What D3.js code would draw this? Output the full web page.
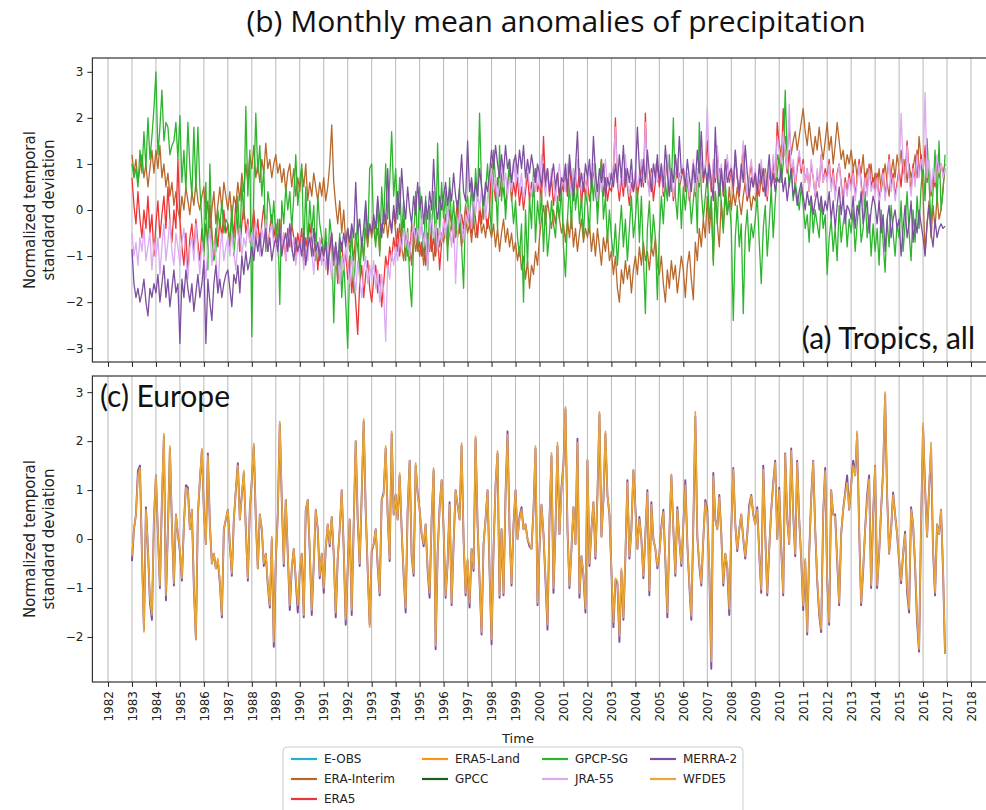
<!DOCTYPE html>
<html>
<head>
<meta charset="utf-8">
<script src="https://cdn.jsdelivr.net/npm/d3@7"></script>
<style>
  body { margin: 0; background: #fff; }
  text { font-family: "DejaVu Sans", sans-serif; }
</style>
</head>
<body>
<svg id="chart"></svg>
<script>
// monthly values, Jan 1983 .. Dec 2016, one row per year
const tropicsEraInterim = [
  1.2, 0.8, 1.1, 0.6, 0.9, 1.2, 0.7, 1.0, 0.5, 0.9, 1.3, 0.8,
  1.3, 0.9, 1.4, 0.7, 1.0, 0.5, 0.8, 0.3, 0.6, 0.1, 0.4, 0.0,
  -0.2, 0.3, 0.0, 0.5, 0.2, -0.1, 0.4, 0.1, 0.6, 0.2, 0.0, 0.3,
  0.5, -0.2, 0.2, -0.6, 0.0, 0.4, -0.3, 0.1, 0.5, 0.0, 0.6, 0.3,
  0.0, 0.4, -0.2, 0.3, 0.1, 0.6, 0.2, 0.8, 0.4, 1.0, 0.6, 1.2,
  0.9, 1.4, 0.7, 1.0, 0.6, 1.1, 0.8, 1.45, 0.9, 1.1, 0.7, 1.0,
  1.2, 0.8, 1.0, 0.6, 0.9, 0.4, 0.8, 1.0, 0.5, 0.9, 0.3, 0.7,
  0.4, 0.9, 0.5, 1.0, 0.2, 0.6, 0.3, 0.8, 0.5, 0.2, 0.6, 0.3,
  0.7, 0.2, 0.5, 1.0, 1.85, 0.6, 0.1, -0.3, 0.2, -0.5, 0.0, -0.7,
  -0.4, -0.9, -0.6, -1.1, -0.5, -0.8, -1.3, -0.7, -1.0, -0.4, -0.8, -0.3,
  -0.6, -0.2, -0.7, -0.4, -0.9, -0.3, -0.5, -0.1, -0.6, -0.2, -0.4, 0.0,
  -0.5, -0.9, -0.3, -0.8, -1.1, -0.6, -1.0, -0.7, -1.2, -0.5, -0.9, -0.6,
  -1.0, -0.7, -1.2, -0.8, -0.5, -0.9, -0.6, -1.1, -0.7, -0.4, -0.8, -0.5,
  -0.7, -0.4, -0.8, -0.5, -0.3, -0.7, -0.4, -0.6, -0.3, -0.8, -0.5, -0.2,
  -0.5, -0.3, -0.7, -0.2, -0.6, -0.4, -0.1, -0.5, -0.3, -0.6, -0.2, -0.4,
  -0.6, -0.3, -0.8, -0.4, -0.9, -0.5, -0.2, -0.7, -0.4, -0.8, -0.5, -0.9,
  -0.7, -1.1, -0.8, -1.3, -1.0, -1.5, -1.1, -1.7, -1.2, -1.4, -0.9, -1.2,
  -0.6, -0.2, 0.1, -0.3, 0.2, -0.1, -0.4, 0.0, -0.3, 0.1, -0.2, -0.5,
  -0.3, -0.7, -0.2, -0.6, -0.1, -0.8, -0.4, -0.9, -0.5, -0.2, -0.7, -0.4,
  -0.6, -0.3, -0.9, -0.5, -1.0, -0.4, -0.8, -1.2, -0.6, -0.9, -0.5, -1.1,
  -0.9, -1.4, -1.0, -1.7, -2.0, -1.3, -1.6, -1.1, -1.5, -1.2, -1.8, -1.3,
  -1.0, -1.4, -0.8, -1.2, -0.7, -1.1, -0.9, -1.3, -0.8, -1.0, -0.6, -1.2,
  -1.4, -1.0, -1.6, -2.0, -1.3, -1.7, -1.1, -1.5, -1.2, -1.8, -1.4, -1.0,
  -1.3, -1.9, -1.2, -0.9, -1.5, -1.95, -0.7, -1.1, -0.4, -0.8, -0.2, -0.6,
  0.3, -0.5, 0.1, -1.1, 0.4, -0.3, -0.8, 0.2, -0.4, 0.3, -0.1, 0.5,
  0.0, 0.4, 0.1, 0.5, 0.2, -0.1, 0.3, 0.6, 0.2, 0.4, 0.0, 0.3,
  0.2, 0.5, 0.3, 0.7, 0.4, 0.9, 0.5, 0.8, 0.6, 1.0, 0.7, 1.2,
  1.0, 1.4, 1.1, 1.6, 1.3, 1.8, 1.2, 1.5, 1.7, 1.3, 1.6, 1.9,
  2.2, 1.7, 1.4, 1.9, 1.5, 1.2, 1.6, 1.3, 1.8, 1.4, 1.1, 1.5,
  1.9, 1.3, 1.6, 1.0, 1.4, 1.9, 1.5, 1.1, 1.3, 0.9, 1.2, 1.0,
  1.3, 0.9, 1.1, 0.7, 1.0, 0.8, 1.2, 0.6, 0.9, 0.7, 1.0, 0.5,
  0.8, 0.5, 0.9, 0.4, 0.7, 1.0, 0.6, 0.3, 0.8, 1.1, 0.7, 1.2,
  0.9, 1.3, 0.8, 1.1, 0.6, 1.0, 0.7, 0.9, 1.2, 0.7, 1.6, 1.1,
  0.4, -0.95, -0.3, 0.2, -0.6, 0.1, -0.4, 0.3, -0.2, 0.0, 0.5, 0.9
];
const tropicsEra5 = [
  0.7, 0.1, -0.3, 0.4, -0.2, -0.6, 0.0, -0.4, 0.3, -0.5, -0.1, -1.0,
  -0.3, 0.2, -0.6, -0.1, 0.3, -0.4, 0.5, -0.2, -0.7, 0.0, -0.4, 1.1,
  -0.2, -0.8, -1.2, -0.5, -1.4, -0.6, -0.3, -0.9, -0.2, -0.7, -1.1, -0.4,
  -0.9, -0.3, -0.7, 0.1, -0.5, -1.0, -0.4, -0.8, -0.2, -0.6, 0.0, -0.5,
  -0.3, -0.8, -0.1, -0.6, 0.2, -0.4, -0.9, -0.3, 0.1, -0.5, -0.2, -0.7,
  -0.4, 0.0, -0.6, -0.2, -0.8, -0.3, 0.1, -0.5, -0.9, -0.4, -0.1, -0.6,
  -0.3, -0.7, -0.2, -0.9, -0.5, -1.1, -0.4, -0.8, -0.3, -0.6, -1.0, -0.5,
  -0.8, -0.4, -1.2, -0.6, -0.9, -0.3, -0.7, -1.0, -0.5, -1.3, -0.8, -0.6,
  -1.1, -0.6, -1.4, -0.9, -0.5, -1.2, -0.8, -1.6, -1.0, -0.7, -1.3, -0.9,
  -1.5, -1.0, -1.8, -1.3, -2.0, -2.7, -1.6, -1.2, -1.9, -1.4, -1.1, -1.7,
  -2.0, -1.5, -1.2, -1.8, -1.4, -2.1, -1.6, -1.0, -1.3, -0.8, -1.1, -0.6,
  -0.9, -0.4, -1.0, -0.6, -0.2, -0.8, -0.5, -1.1, -0.3, -0.7, -0.4, -0.9,
  -0.7, -1.0, -0.5, -1.2, -0.8, -0.4, -0.9, -0.6, -1.0, -0.5, -1.3, -0.7,
  -0.4, -0.1, -0.6, 0.0, -0.3, -0.7, -0.2, 0.2, -0.5, -0.1, -0.4, 0.1,
  -0.3, 0.0, -0.5, 0.2, -0.2, -0.6, 0.1, -0.3, 0.3, -0.1, -0.4, 0.0,
  1.0, 0.6, 0.2, 0.7, 0.3, 0.8, 0.4, 0.1, 0.5, 0.9, 0.2, 0.6,
  0.3, 0.7, 0.1, 0.5, 0.0, 0.4, 0.8, 0.2, 0.6, 0.3, 0.9, 0.4,
  0.6, 0.2, 1.6, 0.5, 0.9, 0.3, 0.7, 0.1, 0.5, 0.8, 0.2, 0.6,
  0.4, 0.8, 0.3, 1.0, 0.5, 0.2, 0.7, 0.4, 0.9, 0.1, 0.6, 0.3,
  0.7, 0.2, 0.5, 0.9, 0.4, 0.0, 0.6, 1.1, 0.3, 0.7, 0.2, 0.5,
  0.4, 0.8, 2.0, 0.6, 0.2, 0.7, 0.3, 0.9, 0.5, 0.1, 0.6, 0.4,
  0.8, 0.3, 0.6, 1.0, 0.5, 2.1, 0.7, 0.4, 0.9, 0.2, 0.6, 1.0,
  0.5, 0.9, 0.3, 0.7, 1.1, 0.4, 0.8, 0.2, 0.6, 1.0, 0.5, 0.7,
  0.9, 0.4, 0.7, 0.2, 0.6, 1.0, 0.3, 0.8, 0.5, 1.2, 0.6, 0.9,
  1.5, 0.8, 0.4, 1.0, 0.6, 1.3, 0.5, 0.9, 0.3, 0.7, 1.1, 0.6,
  0.9, 0.4, 1.2, 0.7, 0.3, 0.8, 1.4, 0.6, 0.2, 0.7, 1.0, 0.5,
  0.8, 0.3, 0.6, 1.0, 0.4, 0.7, 0.2, 0.9, 0.5, 1.1, 0.6, 1.9,
  1.4, 0.9, 2.2, 1.2, 0.8, 1.3, 0.7, 1.0, 0.5, 0.9, 1.2, 0.8,
  1.1, 0.6, 0.9, 0.4, 1.0, 0.7, 0.3, 0.8, 0.5, 1.2, 0.6, 0.9,
  0.7, 1.1, 0.5, 0.9, 0.3, 0.8, 1.0, 0.6, 0.2, 0.7, 0.4, 0.8,
  0.5, 0.9, 0.3, 0.7, 1.1, 0.6, 0.2, 0.8, 0.4, 1.0, 0.5, 0.7,
  0.4, 0.8, 0.2, 0.6, 0.9, 0.3, 0.7, 1.2, 0.5, 0.8, 0.3, 0.6,
  0.9, 0.5, 1.1, 0.7, 1.5, 0.8, 0.4, 1.0, 0.6, 1.3, 0.8, 1.2,
  0.8, 1.4, 0.6, 1.0, 0.3, 0.8, 0.5, 1.1, 0.7, 1.0, 0.8, 1.0
];
const tropicsGpcp = [
  1.0, 0.7, 0.9, 0.5, 1.3, 0.8, 1.7, 0.9, 2.0, 1.1, 1.6, 2.2,
  3.0, 1.2, 1.8, 2.6, 1.5, 1.9, 1.8, 1.2, 1.4, 1.5, 1.9, 1.1,
  2.05, 0.6, 1.3, 0.4, 1.9, 0.9, 0.3, 1.8, 0.4, 1.8, 0.5, -0.3,
  -1.0, 0.6, -1.3, 1.0, -0.6, -1.1, -0.9, 0.0, -0.4, 0.2, -0.5, -0.2,
  -0.3, -0.7, 0.1, -1.0, -0.4, 0.3, -0.8, 0.6, -0.2, 2.25, 0.3, 1.3,
  -2.75, 0.5, 2.1, 0.8, 1.4, 0.3, 0.9, -0.9, 0.4, 0.1, -0.4, 0.2,
  -0.6, -0.2, -2.05, 0.2, -0.3, 0.5, 0.0, 0.4, -0.4, 0.3, 1.2, 0.1,
  0.6, 1.0, -0.9, 0.5, -0.8, 0.2, -0.5, 0.1, -1.1, 0.3, -0.3, -0.6,
  -1.0, -0.4, -1.3, -0.2, -0.6, -2.45, -0.8, -1.5, -0.5, -1.9, -1.1, -2.0,
  -3.0, -1.2, -0.4, -1.8, -0.9, -0.2, -1.5, -0.6, -1.1, 0.1, -0.7, 0.9,
  1.0, -0.4, -0.8, 0.2, -1.0, 0.5, -0.3, 1.0, -0.2, 0.6, 1.7, 0.3,
  0.9, -0.2, 0.7, -0.6, 0.2, -1.1, -0.4, -1.5, -2.1, -0.7, 0.4, -0.9,
  0.5, -0.3, -1.0, 0.3, -1.3, 0.1, -0.6, 0.4, -0.9, 1.45, -0.5, 0.6,
  -0.2, 0.4, -1.1, 0.7, -0.4, 0.2, -0.6, 0.0, 0.5, -0.8, -1.7, 0.1,
  0.3, -0.3, 0.6, -0.4, 0.9, 0.2, 2.1, 0.5, -0.2, 0.4, 1.0, 0.1,
  -0.5, 1.3, 0.6, -0.4, 1.4, 0.2, 0.8, -0.2, 0.5, 1.1, 0.3, -0.3,
  0.2, -0.6, -1.0, -0.3, -2.0, 0.0, -1.2, 0.3, -0.4, 0.9, -0.7, 0.2,
  -0.3, 0.4, -0.9, 0.1, -1.0, -0.5, 0.2, -0.3, -0.6, 0.3, -0.2, 0.5,
  -0.8, -1.45, -0.2, 0.6, -0.4, 0.9, 0.0, 0.5, -0.3, 0.3, -0.6, 0.4,
  0.1, -0.5, 0.8, 0.2, 1.0, -0.3, 0.5, 1.1, -0.2, 0.3, -0.7, 0.0,
  -0.6, -1.0, -0.3, -1.2, -0.5, 0.1, -0.8, -0.2, -1.1, -0.4, 0.3, -0.6,
  -0.2, 0.5, -0.7, 0.3, -1.0, -2.25, -0.4, 0.2, -0.9, -0.1, -0.6, -1.95,
  -0.5, 0.3, -0.3, 0.6, 0.2, 1.2, 0.4, 2.0, 0.3, -0.2, 0.8, -0.4,
  0.5, 0.0, 0.6, 0.4, -0.3, 0.2, 0.7, -0.5, 1.9, 0.4, -0.2, 0.3,
  0.8, -0.2, 0.3, -1.2, 0.4, -0.3, 0.9, 0.1, -0.5, 0.6, -0.1, 0.2,
  -0.4, -2.4, -0.6, 0.1, -0.8, -0.3, -2.25, -0.5, 0.0, -0.9, -0.3, -0.6,
  -0.2, 0.3, -0.7, -1.6, -0.4, 0.1, -1.0, -0.3, 0.5, -0.6, 0.2, 0.8,
  1.2, 0.6, 1.0, 2.6, 1.1, 0.5, 0.9, 0.2, 0.6, 0.3, 0.0, 0.5,
  0.1, -0.4, -0.1, -0.7, 0.3, -0.5, 0.0, -0.3, -0.6, 0.2, -0.4, -0.1,
  -1.4, -0.6, -0.2, -0.9, -0.4, -1.1, 0.1, -0.7, -0.3, 0.0, -0.8, -0.2,
  -0.5, 0.0, -0.9, -0.3, 0.2, -0.7, -0.4, 0.4, -0.6, -0.1, -1.0, -0.3,
  -0.9, -0.4, -1.2, 0.0, -0.7, -1.35, -0.2, -0.8, 0.1, -0.5, -1.0, -0.3,
  -0.6, 0.2, -0.9, -0.3, 0.4, -0.5, -1.1, 0.0, -0.7, 0.3, -0.4, 0.5,
  1.0, 0.2, 1.55, 0.6, -0.3, 0.4, 1.3, 0.1, 1.5, 0.0, 0.4, 1.2
];
const tropicsJra55 = [
  -0.5, -1.0, -0.7, -1.2, -0.6, -0.9, -0.4, -1.1, -0.8, -0.5, -1.3, -0.7,
  -1.0, -0.6, -1.4, -0.8, -0.3, -1.1, -0.7, -0.2, -0.9, -1.2, -0.5, -0.8,
  -1.2, -0.7, -0.4, -1.0, -1.5, -0.8, -0.6, -1.1, -0.3, -0.9, -1.4, -0.7,
  -1.0, -1.5, -0.8, -0.4, -1.2, -0.7, -1.0, -1.8, -0.9, -0.5, -1.1, -0.8,
  -0.6, -1.0, -0.5, -0.9, -1.3, -0.7, -0.4, -1.0, -0.6, -0.8, -0.3, -0.7,
  -0.5, -0.8, -0.3, -0.6, -1.0, -0.4, -0.7, -0.2, -0.9, -0.5, -0.3, -0.8,
  -0.6, -1.0, -0.4, -0.8, -0.5, -1.1, -0.7, -0.3, -0.9, -0.6, -1.2, -0.8,
  -1.0, -0.6, -1.3, -0.8, -1.1, -0.5, -0.9, -1.4, -0.7, -1.0, -0.6, -1.2,
  -0.9, -1.3, -0.7, -1.1, -1.5, -0.8, -1.2, -0.9, -1.6, -1.0, -1.3, -0.8,
  -1.2, -1.6, -1.0, -1.4, -1.8, -1.1, -1.5, -1.9, -1.3, -1.0, -1.6, -1.2,
  -1.5, -1.1, -1.7, -1.3, -2.0, -1.4, -1.8, -2.85, -1.2, -1.5, -0.9, -1.2,
  -0.8, -1.1, -0.6, -0.9, -0.4, -0.8, -0.5, -1.0, -0.6, -0.3, -0.7, -0.4,
  -0.6, -0.2, -0.8, -0.4, -1.3, -0.5, -0.1, -0.6, -0.3, -0.9, -0.4, -0.7,
  -0.2, -0.6, 0.1, -0.4, -0.8, -0.2, -1.6, -0.5, 0.0, -0.3, -0.7, -0.1,
  -0.3, 0.1, -0.4, 0.3, -0.1, 0.4, 0.0, 0.5, 0.2, -0.2, 0.3, 0.6,
  0.9, 0.4, 0.7, 0.2, 0.6, 1.0, 0.5, 0.8, 0.3, 0.7, 0.4, 1.1,
  0.6, 0.9, 0.4, 0.8, 0.2, 0.6, 1.0, 0.5, 0.3, 0.7, 0.4, 0.9,
  0.5, 1.2, 0.7, 0.3, 0.8, 0.4, 0.9, 0.6, 0.2, 0.7, 1.0, 0.5,
  0.8, 0.4, 1.0, 0.6, 0.3, 0.9, 0.5, 1.1, 0.7, 0.4, 0.8, 0.6,
  0.4, 0.9, 0.6, 1.0, 0.5, 0.2, 0.8, 0.4, 0.7, 1.1, 0.5, 0.8,
  0.6, 1.0, 1.8, 0.7, 0.4, 0.9, 0.5, 1.2, 0.6, 0.3, 0.8, 0.5,
  0.9, 0.5, 0.8, 1.1, 0.6, 1.9, 0.7, 0.3, 0.8, 0.5, 1.0, 0.6,
  0.7, 1.0, 0.4, 0.8, 1.2, 0.5, 0.9, 0.3, 0.7, 1.1, 0.6, 0.8,
  1.0, 0.5, 0.8, 0.3, 0.7, 1.1, 0.4, 0.9, 0.6, 1.3, 0.7, 1.0,
  2.25, 1.0, 0.5, 1.1, 0.7, 1.4, 0.6, 1.0, 0.4, 0.8, 1.2, 0.7,
  1.0, 0.5, 1.3, 0.8, 0.4, 0.9, 1.5, 0.7, 0.3, 0.8, 1.1, 0.6,
  0.9, 0.4, 0.7, 1.1, 0.5, 0.8, 0.3, 1.0, 0.6, 1.2, 0.7, 1.6,
  1.3, 1.0, 1.7, 1.2, 0.9, 2.3, 0.8, 1.1, 0.6, 1.0, 1.3, 0.9,
  1.0, 0.6, 0.9, 0.4, 1.1, 0.7, 0.3, 0.9, 0.5, 1.2, 0.6, 0.8,
  0.6, 1.0, 0.4, 0.8, 0.2, 0.7, 1.0, 0.5, 0.1, 0.6, 0.3, 0.7,
  0.4, 0.8, 0.2, 0.6, 1.0, 0.5, 0.1, 0.7, 0.3, 0.9, 0.4, 0.6,
  0.3, 0.7, 0.1, 0.5, 0.8, 0.2, 0.6, 1.1, 0.4, 0.7, 0.2, 0.5,
  0.8, 2.1, 1.0, 0.6, 1.4, 0.7, 0.3, 0.9, 0.5, 1.2, 0.7, 1.1,
  0.9, 2.55, 0.7, 1.1, 0.4, 0.9, 0.6, 1.2, 0.8, 1.0, 0.7, 0.9
];
const tropicsMerra2 = [
  -0.85, -1.6, -1.9, -1.7, -2.0, -1.8, -1.5, -2.0, -2.3, -1.7, -1.9, -1.6,
  -1.8, -1.4, -2.0, -1.6, -1.2, -1.9, -1.5, -2.1, -1.7, -1.3, -1.8, -1.6,
  -2.9, -1.5, -1.9, -1.3, -1.7, -2.0, -1.6, -2.2, -1.8, -1.4, -1.9, -1.6,
  -1.1, -2.9, -1.5, -2.0, -2.4, -1.6, -1.2, -1.8, -1.5, -1.9, -1.6, -1.4,
  -1.3, -1.7, -2.1, -1.4, -1.6, -1.2, -1.8, -1.0, -1.4, -0.9, -1.3, -1.1,
  -0.8, -1.1, -0.6, -0.9, -0.5, -1.0, -0.7, -0.4, -0.9, -0.6, -1.1, -0.8,
  -0.6, -0.9, -0.4, -1.0, -0.7, -0.5, -0.9, -0.3, -0.8, -1.1, -0.6, -0.9,
  -0.7, -1.0, -0.5, -1.2, -0.8, -0.6, -1.0, -0.4, -0.9, -0.7, -1.1, -0.8,
  -1.0, -0.7, -1.3, -0.8, -0.5, -1.1, -0.7, -1.2, -0.6, -0.9, -0.5, -0.8,
  -0.4, -0.7, -0.3, -0.6, 0.6, -0.5, -0.2, -0.8, -0.4, 0.2, -0.6, -0.3,
  -0.5, -0.1, -0.4, 0.3, -0.2, -0.6, 0.0, -0.3, 0.9, -0.2, -0.5, 0.1,
  -0.3, 0.4, -0.1, 0.9, 0.2, -0.2, 0.5, 0.0, -0.3, 0.3, -0.1, 0.6,
  0.0, 0.3, -0.3, 0.2, -0.2, 0.4, 0.0, 1.1, 0.1, -0.2, 0.3, 0.0,
  0.3, 0.6, 0.1, 0.5, 0.2, 0.8, 0.3, 0.0, 0.5, 1.2, 0.4, 0.2,
  1.5, 0.4, 0.7, 0.2, 0.6, 0.3, 0.9, 0.5, 0.1, 0.6, 0.4, 0.8,
  1.3, 0.9, 1.4, 1.0, 0.7, 1.2, 0.8, 1.4, 0.9, 1.1, 0.6, 1.0,
  1.2, 0.8, 1.3, 0.9, 1.4, 0.7, 1.1, 0.8, 1.2, 0.9, 0.6, 1.0,
  0.8, 0.5, 1.0, 0.6, 0.9, 0.4, 0.7, 1.0, 0.5, 0.8, 0.3, 0.7,
  0.6, 1.0, 0.4, 1.2, 0.7, 0.3, 0.9, 1.7, 0.5, 0.8, 0.4, 1.0,
  0.7, 1.1, 0.5, 1.6, 0.8, 0.4, 0.9, 0.6, 1.0, 0.3, 0.7, 0.5,
  0.8, 0.5, 1.0, 0.6, 1.2, 0.7, 1.4, 0.5, 0.9, 0.6, 1.1, 0.4,
  0.7, 1.8, 0.9, 0.5, 1.1, 0.6, 1.3, 0.8, 0.4, 1.0, 0.7, 1.2,
  0.6, 1.0, 0.5, 1.4, 0.8, 0.3, 0.9, 0.6, 1.2, 0.7, 1.6, 0.8,
  0.9, 0.5, 1.1, 0.7, 0.4, 1.0, 0.6, 1.3, 0.8, 1.7, 0.7, 0.9,
  0.5, 1.0, 0.6, 0.2, 1.8, 0.7, 0.3, 0.9, 0.4, 1.1, 0.6, 0.8,
  0.9, 0.5, 1.3, 0.7, 0.4, 1.0, 0.6, 1.4, 0.8, 0.3, 0.7, 0.5,
  0.8, 0.4, 1.0, 0.6, 0.9, 0.3, 0.7, 1.2, 0.5, 0.8, 0.4, 0.7,
  0.6, 0.9, 0.4, 0.7, 0.2, 0.6, 0.9, 0.3, 0.5, 0.1, 0.4, 0.6,
  0.3, 0.0, 0.4, 0.1, 0.3, -0.1, 0.2, 0.4, 0.0, 0.3, -0.1, 0.2,
  0.0, 0.4, -0.2, 0.2, -0.4, 0.1, 0.5, -0.1, 0.3, -0.3, 0.1, 0.0,
  -0.2, 0.3, -0.4, 0.1, -0.1, 0.4, -0.3, 0.0, 0.2, -0.5, 0.0, 0.3,
  0.1, -0.3, 0.2, -0.5, -0.1, -0.9, -0.2, 0.1, -0.6, -0.2, 0.0, -0.4,
  -0.2, -1.0, -0.4, 0.1, -0.6, -0.3, 0.2, -0.7, -0.2, -0.5, 0.0, -0.3,
  -0.6, -1.0, -0.3, 0.1, -0.5, -0.8, -0.2, -0.6, -0.4, -0.3, -0.4, -0.35
];
const europeMerra2 = [
  -0.45, 0.2, 0.5, 1.4, 1.5, -0.3, -1.85, 0.65, -0.2, -1.3, -1.65, 0.4,
  1.3, 0.1, -1.0, 0.8, 2.1, -1.25, 0.2, 1.85, 0.3, -0.95, 0.5, 0.1,
  -0.25, -0.85, 0.3, 1.1, 1.05, 0.2, 0.6, -1.0, -2.05, 0.5, 1.2, 1.8,
  0.6, -0.1, 1.75, 0.3, -0.5, -0.3, -0.6, -0.45, -0.9, -1.6, 0.2, 0.4,
  0.6, -0.1, -0.75, 0.4, 1.0, 1.55, 0.4, 0.9, 1.35, 0.2, -0.85, 0.6,
  1.2, 1.9, 0.4, -0.6, 0.5, 0.2, -0.55, -0.3, -0.95, -1.4, 0.0, -2.2,
  -0.45, 0.5, 2.35, 0.8, -0.55, 0.8, -0.3, -1.45, -0.6, -0.2, -0.85, -1.5,
  -0.65, -0.3, -1.6, 0.6, 0.8, -0.25, -1.55, -0.5, 0.6, 0.2, -0.8, -0.3,
  -1.1, -0.2, 0.3, -0.15, 0.45, -0.3, -1.6, -0.4, 0.2, 1.0, -0.2, -1.75,
  -0.6, 0.4, -1.55, 0.3, 2.0, 0.4, -0.55, 0.9, 2.4, 0.6, -0.65, -1.75,
  -0.25, -0.1, 0.2, -0.55, -1.15, 0.8, 0.95, 1.85, 0.5, -0.45, 2.15, 0.5,
  0.9, 0.4, 1.3, 0.2, -0.75, -1.5, 0.6, 1.6, -0.35, -0.75, 1.5, 0.95,
  0.6, 0.1, -0.15, 0.3, -0.65, -1.2, 0.4, 1.4, -2.25, -0.3, 0.65, 1.2,
  0.2, -1.2, -0.5, 0.75, -1.35, -0.1, 1.0, 0.7, 0.4, 1.9, 0.0, -1.15,
  -0.45, -1.4, -0.2, -0.65, 2.05, 0.3, -0.85, -1.95, -0.1, 0.4, 1.0, -0.65,
  -2.15, -0.2, 1.1, 1.75, -1.2, 0.2, -1.15, 0.9, 2.2, 0.2, -0.95, 0.3,
  1.0, 0.0, 0.45, 0.65, 0.2, 0.3, 0.0, -0.15, -0.2, 0.6, 1.85, -1.35,
  -0.2, 0.7, 0.1, -0.85, -1.85, 0.4, 1.7, -1.1, 0.2, 1.9, 0.1, 1.05,
  1.55, 2.65, 0.2, -1.0, -0.2, 0.65, -0.1, 2.05, -1.2, -0.35, -0.75, -1.5,
  1.6, -0.55, 0.2, 0.75, -0.4, 0.9, 2.55, 0.05, 0.8, 2.15, 0.9, 0.5,
  -0.65, -1.8, -0.85, -0.9, -2.1, -0.65, -1.65, -0.35, 1.2, -0.4, 0.2, 1.4,
  0.65, -0.2, 0.45, 0.0, -0.8, 0.1, 1.0, -1.15, 0.75, 0.0, -0.2, -0.6,
  -0.3, 0.25, 0.6, -0.45, -1.6, 0.1, 1.3, 0.2, -0.75, 0.65, 0.0, -0.55,
  0.3, 1.2, -0.1, -0.95, -1.65, 0.3, 2.5, 0.05, -0.55, -0.95, 0.0, 0.8,
  0.6, -0.65, -2.65, 1.35, 0.4, 0.2, 0.9, 0.1, -0.95, -0.3, -0.6, -1.55,
  0.2, 1.45, 0.3, -0.25, 0.2, 0.5, 0.0, -0.4, 0.1, 0.7, 0.9, 0.5,
  0.3, 0.65, -0.3, -1.1, 1.5, 0.1, -1.15, -0.2, 0.6, 1.15, 1.6, 0.0,
  1.05, -0.2, -1.15, 1.75, 0.4, -0.1, 1.85, 0.5, -0.35, 1.6, 0.4, -0.4,
  -1.45, -0.45, -1.95, -0.3, 0.85, 1.6, 0.2, -0.85, -1.55, -1.9, 0.5, 1.45,
  -0.85, -1.75, 1.0, 0.5, 0.5, -0.45, -1.35, 0.1, 0.6, 0.95, 1.3, 0.6,
  1.1, 1.6, 1.3, 2.15, 0.2, -1.35, -0.65, 0.2, 0.9, 1.3, -1.0, 0.5,
  1.5, -1.0, -0.3, 0.6, 1.4, 2.95, 0.9, -0.3, 0.2, 0.95, 0.5, 0.1,
  -0.45, -0.9, -0.3, 0.15, -1.1, -1.5, 0.65, 0.3, -0.55, -1.7, -2.3, 0.3,
  2.3, 1.05, 0.05, 1.0, 1.85, -0.25, -1.15, 0.3, 0.1, 0.6, -0.65, -2.35
];
const europeWfde5 = [
  -0.35, 0.2, 0.5, 1.3, 1.45, -0.3, -1.9, 0.6, -0.2, -1.2, -1.55, 0.4,
  1.3, 0.1, -0.95, 0.8, 2.15, -1.15, 0.2, 1.9, 0.3, -0.9, 0.5, 0.1,
  -0.2, -0.8, 0.3, 1.05, 1.0, 0.2, 0.6, -0.95, -2.05, 0.5, 1.2, 1.85,
  0.6, -0.1, 1.7, 0.3, -0.5, -0.3, -0.6, -0.4, -0.85, -1.55, 0.2, 0.4,
  0.6, -0.1, -0.7, 0.4, 1.0, 1.5, 0.4, 0.9, 1.4, 0.2, -0.8, 0.6,
  1.2, 1.95, 0.4, -0.6, 0.5, 0.2, -0.5, -0.3, -0.9, -1.35, 0.05, -2.1,
  -0.4, 0.5, 2.4, 0.8, -0.5, 0.8, -0.3, -1.35, -0.6, -0.2, -0.8, -1.35,
  -0.6, -0.3, -1.55, 0.6, 0.8, -0.2, -1.45, -0.5, 0.6, 0.2, -0.75, -0.3,
  -1.0, -0.2, 0.3, -0.1, 0.45, -0.3, -1.5, -0.4, 0.2, 1.0, -0.2, -1.65,
  -0.6, 0.4, -1.45, 0.3, 2.0, 0.4, -0.5, 0.9, 2.45, 0.6, -0.6, -1.8,
  -0.2, -0.1, 0.2, -0.5, -1.1, 0.8, 0.9, 1.9, 0.5, -0.4, 2.2, 0.5,
  0.9, 0.4, 1.35, 0.2, -0.7, -1.4, 0.6, 1.6, -0.3, -0.7, 1.55, 0.9,
  0.6, 0.1, -0.1, 0.3, -0.6, -1.1, 0.4, 1.45, -2.18, -0.3, 0.6, 1.2,
  0.2, -1.15, -0.5, 0.7, -1.3, -0.1, 1.0, 0.7, 0.4, 1.96, 0.0, -1.1,
  -0.4, -1.3, -0.2, -0.6, 2.1, 0.3, -0.8, -1.9, -0.1, 0.4, 1.0, -0.6,
  -2.05, -0.2, 1.1, 1.8, -1.15, 0.2, -1.1, 0.9, 2.13, 0.2, -0.9, 0.3,
  1.0, 0.0, 0.4, 0.6, 0.2, 0.3, 0.0, -0.1, -0.2, 0.6, 1.9, -1.3,
  -0.2, 0.7, 0.1, -0.8, -1.75, 0.4, 1.76, -1.0, 0.2, 1.97, 0.1, 1.0,
  1.5, 2.7, 0.2, -0.95, -0.2, 0.65, -0.1, 1.97, -1.1, -0.35, -0.7, -1.42,
  1.63, -0.5, 0.2, 0.75, -0.35, 0.9, 2.6, 0.05, 0.8, 2.2, 0.9, 0.5,
  -0.6, -1.7, -0.8, -0.85, -1.98, -0.6, -1.6, -0.3, 1.15, -0.35, 0.2, 1.42,
  0.6, -0.2, 0.4, 0.0, -0.75, 0.1, 0.95, -1.05, 0.7, 0.0, -0.2, -0.55,
  -0.3, 0.2, 0.55, -0.4, -1.5, 0.1, 1.32, 0.2, -0.7, 0.6, 0.0, -0.5,
  0.3, 1.1, -0.1, -0.9, -1.57, 0.3, 2.6, 0.05, -0.5, -0.9, 0.0, 0.74,
  0.5, -0.6, -2.5, 1.28, 0.4, 0.2, 0.85, 0.1, -0.9, -0.3, -0.55, -1.43,
  0.2, 1.42, 0.3, -0.2, 0.2, 0.5, 0.0, -0.35, 0.1, 0.6, 0.88, 0.5,
  0.3, 0.6, -0.3, -1.03, 1.42, 0.1, -1.1, -0.2, 0.6, 1.1, 1.56, 0.0,
  1.0, -0.2, -1.1, 1.73, 0.4, -0.1, 1.8, 0.5, -0.3, 1.56, 0.4, -0.4,
  -1.36, -0.4, -1.9, -0.3, 0.8, 1.59, 0.2, -0.8, -1.5, -1.84, 0.5, 1.39,
  -0.8, -1.7, 1.0, 0.5, 0.45, -0.4, -1.3, 0.1, 0.6, 0.9, 1.15, 0.6,
  1.1, 1.5, 1.3, 2.2, 0.2, -1.3, -0.6, 0.2, 0.8, 1.22, -0.95, 0.5,
  1.49, -0.95, -0.3, 0.6, 1.4, 3.0, 0.9, -0.3, 0.2, 0.9, 0.5, 0.1,
  -0.4, -0.85, -0.3, 0.1, -1.0, -1.43, 0.6, 0.3, -0.5, -1.6, -2.25, 0.3,
  2.37, 1.0, 0.05, 1.0, 1.97, -0.2, -1.1, 0.3, 0.1, 0.6, -0.6, -2.35
];

const yearTicks = d3.range(1982, 2019);
const topTicks = [-3, -2, -1, 0, 1, 2, 3];
const bottomTicks = [-2, -1, 0, 1, 2, 3];
const legendNames = ["E-OBS", "ERA-Interim", "ERA5", "ERA5-Land", "GPCC", "GPCP-SG", "JRA-55", "MERRA-2", "WFDE5"];
const legendColors = ["#1fb4c9", "#b8682c", "#ee3434", "#f7941e", "#1b5e20", "#2db52d", "#dcaaf0", "#7d4f9f", "#eaa636"];
const colorOf = name => legendColors[legendNames.indexOf(name)];

const width = 986, height = 810;
const svg = d3.select("#chart").attr("width", width).attr("height", height);

const x = d3.scaleLinear().domain([1981.35, 2018.65]).range([92.4, 986.6]);
const yTop = d3.scaleLinear().domain([-3.3, 3.3]).range([362, 58]);
const yBot = d3.scaleLinear().domain([-2.92, 3.33]).range([682, 376]);
const monthT = i => 1983 + i / 12;

function panel(id, y, ticks, series, lineWidth) {
  const [y0, y1] = y.range();
  const [x0, x1] = x.range();
  const g = svg.append("g");
  g.append("clipPath").attr("id", id)
    .append("rect").attr("x", x0).attr("y", y1).attr("width", x1 - x0).attr("height", y0 - y1);

  g.append("g").selectAll("line").data(yearTicks).enter().append("line")
    .attr("x1", d => x(d)).attr("x2", d => x(d))
    .attr("y1", y1).attr("y2", y0)
    .attr("stroke", "#b8b8b8").attr("stroke-width", 1);

  const line = d3.line().x((d, i) => x(monthT(i))).y(d => y(d));
  g.append("g").attr("clip-path", `url(#${id})`)
    .selectAll("path").data(series).enter().append("path")
    .attr("fill", "none")
    .attr("stroke", d => colorOf(d.name))
    .attr("stroke-width", d => d.w || lineWidth)
    .attr("stroke-linejoin", "round")
    .attr("d", d => line(d.values));

  const yAxis = g.append("g").attr("transform", `translate(${x0},0)`)
    .call(d3.axisLeft(y).tickValues(ticks).tickSize(5).tickPadding(4).tickFormat(d3.format("d")));
  yAxis.select(".domain").remove();
  yAxis.selectAll("text").attr("font-size", 12).attr("font-family", "DejaVu Sans").attr("fill", "#222");
  yAxis.selectAll("line").attr("stroke", "#222");

  g.append("rect").attr("x", x0).attr("y", y1).attr("width", x1 - x0).attr("height", y0 - y1)
    .attr("fill", "none").attr("stroke", "#333").attr("stroke-width", 1.2);

  const yl = g.append("text")
    .attr("transform", `translate(0,${y(0)}) rotate(-90)`)
    .attr("text-anchor", "middle").attr("font-size", 15).attr("fill", "#222");
  yl.append("tspan").attr("x", 0).attr("y", 35).text("Normalized temporal");
  yl.append("tspan").attr("x", 0).attr("y", 54).text("standard deviation");
  return g;
}

const gTop = panel("clipTop", yTop, topTicks, [
  { name: "ERA-Interim", values: tropicsEraInterim },
  { name: "ERA5", values: tropicsEra5 },
  { name: "GPCP-SG", values: tropicsGpcp },
  { name: "JRA-55", values: tropicsJra55 },
  { name: "MERRA-2", values: tropicsMerra2 }
], 1.3);
const xTop = gTop.append("g").attr("transform", `translate(0,${yTop.range()[0]})`)
  .call(d3.axisBottom(x).tickValues(yearTicks).tickSize(5).tickFormat(""));
xTop.select(".domain").remove();
xTop.selectAll("line").attr("stroke", "#222");

const gBot = panel("clipBot", yBot, bottomTicks, [
  { name: "MERRA-2", values: europeMerra2, w: 1.9 },
  { name: "WFDE5", values: europeWfde5, w: 1.6 }
], 1.6);
const xBot = gBot.append("g").attr("transform", `translate(0,${yBot.range()[0]})`)
  .call(d3.axisBottom(x).tickValues(yearTicks).tickSize(5).tickFormat(d3.format("d")));
xBot.select(".domain").remove();
xBot.selectAll("line").attr("stroke", "#222");
xBot.selectAll("text")
  .attr("font-size", 12).attr("font-family", "DejaVu Sans").attr("fill", "#222")
  .attr("text-anchor", "end").attr("dy", "0.35em")
  .attr("transform", "translate(0,4) rotate(-90)")
  .attr("x", -5).attr("y", 0);

svg.append("text").attr("x", 518).attr("y", 743).attr("text-anchor", "middle")
  .attr("font-size", 13).attr("fill", "#222").text("Time");

svg.append("text").attr("x", 556).attr("y", 32).attr("text-anchor", "middle")
  .style("font-family", "'Open Sans', sans-serif")
  .attr("font-size", 30).attr("fill", "#111").text("(b) Monthly mean anomalies of precipitation");

svg.append("text").attr("x", 975).attr("y", 349).attr("text-anchor", "end")
  .style("font-family", "Lato, sans-serif")
  .attr("font-size", 30).attr("fill", "#111").text("(a) Tropics, all");
svg.append("text").attr("x", 100).attr("y", 407)
  .style("font-family", "Lato, sans-serif")
  .attr("font-size", 30).attr("fill", "#111").text("(c) Europe");

// legend, 4 columns filled top to bottom
const colCounts = [3, 2, 2, 2];
const colX = [291, 422, 542, 650];
const legend = svg.append("g");
legend.append("rect").attr("x", 283).attr("y", 747).attr("width", 460).attr("height", 80)
  .attr("rx", 4).attr("fill", "#fff").attr("stroke", "#cccccc");
let k = 0;
colCounts.forEach((n, c) => {
  for (let r = 0; r < n; r++, k++) {
    const ly = 759 + r * 20;
    legend.append("line").attr("x1", colX[c]).attr("x2", colX[c] + 26)
      .attr("y1", ly).attr("y2", ly)
      .attr("stroke", legendColors[k]).attr("stroke-width", 2.2);
    legend.append("text").attr("x", colX[c] + 33).attr("y", ly).attr("dy", "0.35em")
      .attr("font-size", 12).attr("fill", "#222").text(legendNames[k]);
  }
});
</script>
</body>
</html>
